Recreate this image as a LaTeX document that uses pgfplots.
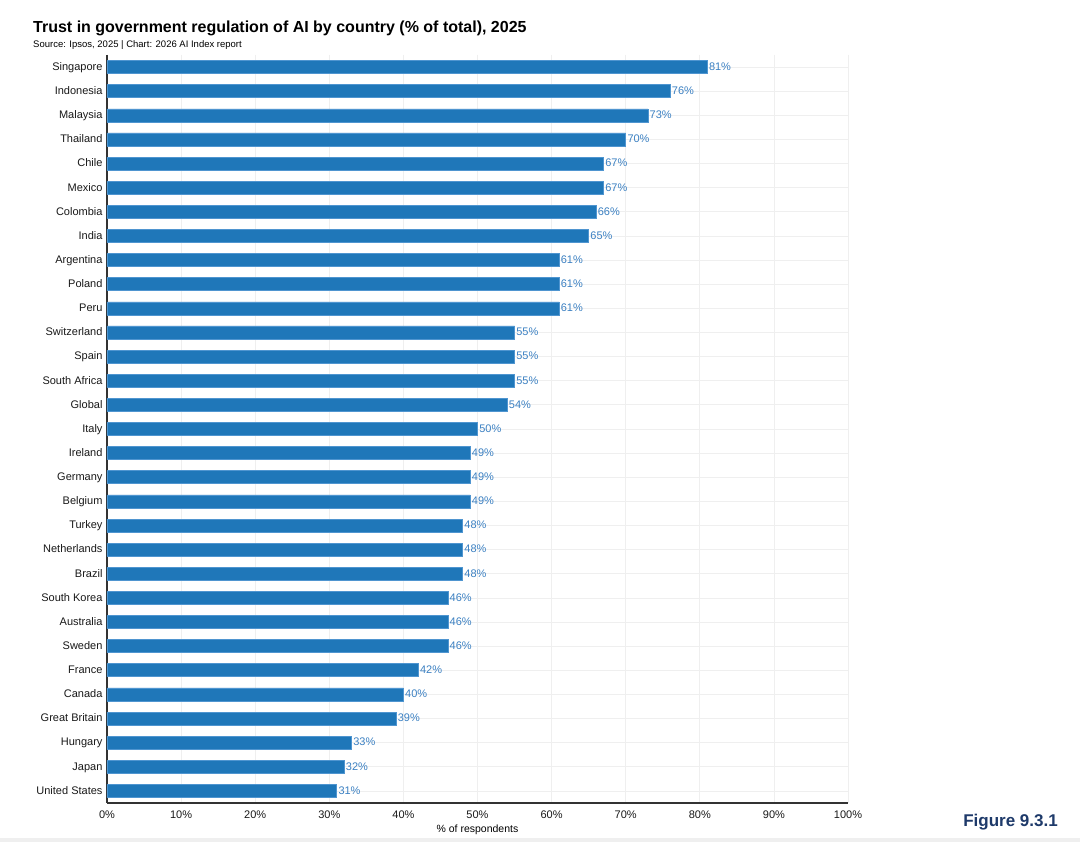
\documentclass[border=0pt]{standalone}
\usepackage{pgfplots}
\pgfplotsset{compat=1.18}
\usepackage{fontspec}
\setmainfont{Liberation Sans}
\definecolor{barblue}{HTML}{1F77B9}
\definecolor{barline}{HTML}{4F95D0}
\definecolor{lblblue}{HTML}{3B80C2}
\definecolor{navy}{HTML}{1E3A6A}
\definecolor{gridc}{HTML}{EFEFEF}
\definecolor{axc}{HTML}{333333}
\begin{document}
\begin{tikzpicture}
\fill[white] (0pt,0pt) rectangle (1080pt,842pt);
\fill[gridc] (0pt,0pt) rectangle (1080pt,4pt);
\node[anchor=base west,inner sep=0,font=\fontsize{16}{19}\selectfont\bfseries] at (33pt,809pt) {Trust in government regulation of AI by country (\% of total), 2025};
\node[anchor=base west,inner sep=0,font=\fontsize{9.5}{11}\selectfont] at (33pt,794pt) {Source: Ipsos, 2025 | Chart: 2026 AI Index report};
\node[anchor=base east,inner sep=0,font=\fontsize{17}{20}\selectfont\bfseries,text=navy] at (1058pt,15pt) {Figure 9.3.1};
\begin{axis}[
  at={(107pt,39pt)}, anchor=south west,
  scale only axis, width=741pt, height=748pt,
  xbar, bar width=13pt,
  xmin=0, xmax=100, ymin=-0.5, ymax=30.5,
  y dir=reverse,
  xtick={0,10,...,100},
  xticklabel={\pgfmathprintnumber{\tick}\%},
  ytick={0,...,30},
  yticklabels={Singapore,Indonesia,Malaysia,Thailand,Chile,Mexico,Colombia,India,Argentina,Poland,Peru,Switzerland,Spain,South Africa,Global,Italy,Ireland,Germany,Belgium,Turkey,Netherlands,Brazil,South Korea,Australia,Sweden,France,Canada,Great Britain,Hungary,Japan,United States},
  /pgf/number format/assume math mode=true,
  tick label style={font=\fontsize{11}{13}\selectfont, text=black!90},
  xlabel={\% of respondents},
  xlabel style={font=\fontsize{10.5}{12}\selectfont, at={(axis description cs:0.5,0)}, anchor=center, yshift=-27pt},
  major tick length=0pt,
  xmajorgrids, ymajorgrids,
  grid style={gridc, line width=0.8pt},
  axis x line*=bottom, axis y line*=left,
  axis line style={axc, line width=1.4pt, -},
  xticklabel style={anchor=center, yshift=-12pt},
  yticklabel style={xshift=-1pt, text height=1.55ex, text depth=0.3ex},
  nodes near coords={\pgfmathprintnumber{\pgfplotspointmeta}\%},
  nodes near coords style={font=\fontsize{11}{13}\selectfont, text=lblblue, anchor=west, inner sep=1.5pt, text height=1.55ex, text depth=0.3ex},
  point meta=x,
  clip=false,
]
\addplot[fill=barblue, draw=barline, line width=0.6pt] coordinates {
(81,0) (76,1) (73,2) (70,3) (67,4) (67,5) (66,6) (65,7) (61,8) (61,9) (61,10)
(55,11) (55,12) (55,13) (54,14) (50,15) (49,16) (49,17) (49,18) (48,19) (48,20)
(48,21) (46,22) (46,23) (46,24) (42,25) (40,26) (39,27) (33,28) (32,29) (31,30)
};
\end{axis}
\end{tikzpicture}
\end{document}
